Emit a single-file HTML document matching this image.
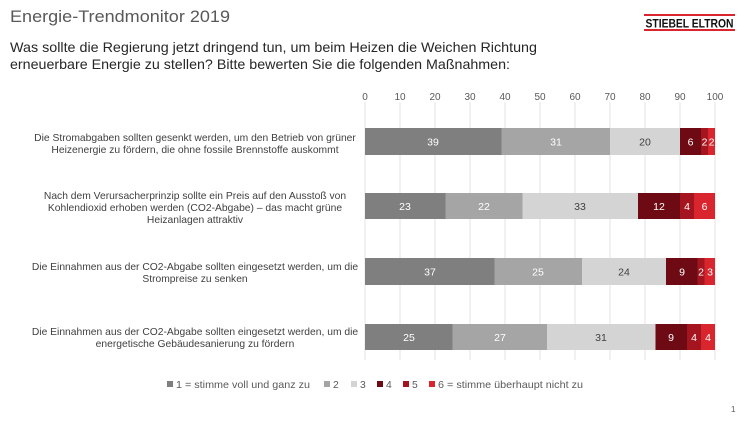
<!DOCTYPE html>
<html><head><meta charset="utf-8"><style>
body{margin:0;background:#fff;}
svg{display:block;font-family:"Liberation Sans",sans-serif;}
</style></head><body>
<svg width="750" height="422" viewBox="0 0 750 422">
<text x="10" y="22" font-size="17" fill="#595959" textLength="220" lengthAdjust="spacingAndGlyphs">Energie-Trendmonitor 2019</text>
<text x="10" y="52" font-size="14" fill="#262626" textLength="527" lengthAdjust="spacingAndGlyphs">Was sollte die Regierung jetzt dringend tun, um beim Heizen die Weichen Richtung</text>
<text x="10" y="69" font-size="14" fill="#262626" textLength="500" lengthAdjust="spacingAndGlyphs">erneuerbare Energie zu stellen? Bitte bewerten Sie die folgenden Maßnahmen:</text>
<g>
<rect x="644" y="14" width="91" height="2" fill="#d9262e"/>
<rect x="644" y="29" width="91" height="2" fill="#d9262e"/>
<text x="689.5" y="27.5" font-size="11.5" font-weight="bold" fill="#111" text-anchor="middle" textLength="88" lengthAdjust="spacingAndGlyphs">STIEBEL ELTRON</text>
</g>
<g stroke="#e3e3e3" stroke-width="1">
<line x1="365" y1="102" x2="365" y2="360"/><line x1="400" y1="102" x2="400" y2="360"/><line x1="435" y1="102" x2="435" y2="360"/><line x1="470" y1="102" x2="470" y2="360"/><line x1="505" y1="102" x2="505" y2="360"/><line x1="540" y1="102" x2="540" y2="360"/><line x1="575" y1="102" x2="575" y2="360"/><line x1="610" y1="102" x2="610" y2="360"/><line x1="645" y1="102" x2="645" y2="360"/><line x1="680" y1="102" x2="680" y2="360"/><line x1="715" y1="102" x2="715" y2="360"/>
</g>
<g font-size="10" fill="#595959" text-anchor="middle">
<text x="365" y="100">0</text><text x="400" y="100">10</text><text x="435" y="100">20</text><text x="470" y="100">30</text><text x="505" y="100">40</text><text x="540" y="100">50</text><text x="575" y="100">60</text><text x="610" y="100">70</text><text x="645" y="100">80</text><text x="680" y="100">90</text><text x="715" y="100">100</text>
</g>
<g font-size="10.3" fill="#404040" text-anchor="middle">
<text x="195" y="141">Die Stromabgaben sollten gesenkt werden, um den Betrieb von grüner</text>
<text x="195" y="153">Heizenergie zu fördern, die ohne fossile Brennstoffe auskommt</text>
<text x="195" y="199">Nach dem Verursacherprinzip sollte ein Preis auf den Ausstoß von</text>
<text x="195" y="211">Kohlendioxid erhoben werden (CO2-Abgabe) – das macht grüne</text>
<text x="195" y="223">Heizanlagen attraktiv</text>
<text x="195" y="270">Die Einnahmen aus der CO2-Abgabe sollten eingesetzt werden, um die</text>
<text x="195" y="282">Strompreise zu senken</text>
<text x="195" y="335">Die Einnahmen aus der CO2-Abgabe sollten eingesetzt werden, um die</text>
<text x="195" y="347">energetische Gebäudesanierung zu fördern</text>
</g>
<g>
<rect x="365" y="128" width="136.5" height="27" fill="#7f7f80"/><rect x="501.5" y="128" width="108.5" height="27" fill="#a5a5a6"/><rect x="610" y="128" width="70" height="27" fill="#d4d4d5"/><rect x="680" y="128" width="21" height="27" fill="#6e0a14"/><rect x="701" y="128" width="7" height="27" fill="#a5151f"/><rect x="708" y="128" width="7" height="27" fill="#d9262e"/>
<rect x="365" y="193" width="80.5" height="26" fill="#7f7f80"/><rect x="445.5" y="193" width="77" height="26" fill="#a5a5a6"/><rect x="522.5" y="193" width="115.5" height="26" fill="#d4d4d5"/><rect x="638" y="193" width="42" height="26" fill="#6e0a14"/><rect x="680" y="193" width="14" height="26" fill="#a5151f"/><rect x="694" y="193" width="21" height="26" fill="#d9262e"/>
<rect x="365" y="258" width="129.5" height="27" fill="#7f7f80"/><rect x="494.5" y="258" width="87.5" height="27" fill="#a5a5a6"/><rect x="582" y="258" width="84" height="27" fill="#d4d4d5"/><rect x="666" y="258" width="31.5" height="27" fill="#6e0a14"/><rect x="697.5" y="258" width="7" height="27" fill="#a5151f"/><rect x="704.5" y="258" width="10.5" height="27" fill="#d9262e"/>
<rect x="365" y="324" width="87.5" height="26" fill="#7f7f80"/><rect x="452.5" y="324" width="94.5" height="26" fill="#a5a5a6"/><rect x="547" y="324" width="108.5" height="26" fill="#d4d4d5"/><rect x="655.5" y="324" width="31.5" height="26" fill="#6e0a14"/><rect x="687" y="324" width="14" height="26" fill="#a5151f"/><rect x="701" y="324" width="14" height="26" fill="#d9262e"/>
</g>
<g font-size="10.5" text-anchor="middle" fill="#fff">
<text x="433" y="145.5">39</text><text x="556" y="145.5">31</text><text x="645" y="145.5" fill="#404040">20</text><text x="690.5" y="145.5">6</text><text x="704.5" y="145.5">2</text><text x="711.5" y="145.5">2</text>
<text x="405" y="210">23</text><text x="484" y="210">22</text><text x="580" y="210" fill="#404040">33</text><text x="659" y="210">12</text><text x="687" y="210">4</text><text x="704.5" y="210">6</text>
<text x="430" y="275.5">37</text><text x="538" y="275.5">25</text><text x="624" y="275.5" fill="#404040">24</text><text x="682" y="275.5">9</text><text x="701" y="275.5">2</text><text x="710" y="275.5">3</text>
<text x="409" y="341">25</text><text x="500" y="341">27</text><text x="601" y="341" fill="#404040">31</text><text x="671" y="341">9</text><text x="694" y="341">4</text><text x="708" y="341">4</text>
</g>
<g font-size="10.3" fill="#595959">
<rect x="167" y="381" width="6" height="6" fill="#7f7f80"/><text x="176" y="388" textLength="134" lengthAdjust="spacingAndGlyphs">1 = stimme voll und ganz zu</text>
<rect x="324" y="381" width="6" height="6" fill="#a5a5a6"/><text x="333" y="388">2</text>
<rect x="351" y="381" width="6" height="6" fill="#d4d4d5"/><text x="360" y="388">3</text>
<rect x="377" y="381" width="6" height="6" fill="#6e0a14"/><text x="386" y="388">4</text>
<rect x="403" y="381" width="6" height="6" fill="#a5151f"/><text x="412" y="388">5</text>
<rect x="429" y="381" width="6" height="6" fill="#d9262e"/><text x="438" y="388" textLength="145" lengthAdjust="spacingAndGlyphs">6 = stimme überhaupt nicht zu</text>
</g>
<text x="731" y="412" font-size="8" fill="#595959">1</text>
</svg>
</body></html>
